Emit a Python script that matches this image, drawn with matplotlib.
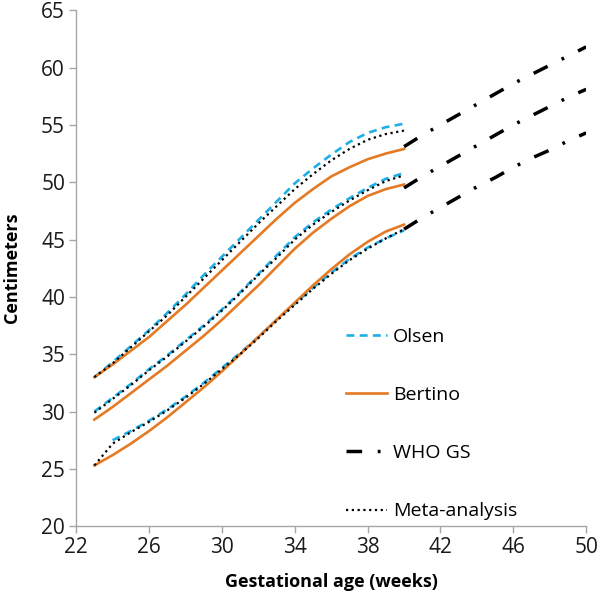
import numpy as np
import matplotlib
matplotlib.use("Agg")
import matplotlib.pyplot as plt

plt.rcParams['font.family'] = ['Open Sans', 'DejaVu Sans']

# gestational age in weeks
weeks = list(range(23, 41))
olsen_weeks = list(range(24, 41))
who_weeks = list(range(40, 51))

# upper curves
olsen_hi = [33.0, 34.3, 35.7, 37.1, 38.6, 40.2, 41.9, 43.5, 45.1, 46.7, 48.3, 49.9, 51.2, 52.4, 53.5, 54.3, 54.8, 55.1]
bertino_hi = [33.0, 34.1, 35.3, 36.5, 37.9, 39.3, 40.8, 42.3, 43.8, 45.3, 46.8, 48.2, 49.4, 50.5, 51.3, 52.0, 52.5, 52.9]
meta_hi = [33.0, 34.2, 35.6, 37.0, 38.4, 40.0, 41.6, 43.2, 44.8, 46.4, 47.9, 49.4, 50.7, 51.9, 52.9, 53.7, 54.2, 54.5]

# middle curves
olsen_mid = [30.0, 31.2, 32.4, 33.7, 34.9, 36.2, 37.5, 38.9, 40.4, 42.0, 43.6, 45.2, 46.5, 47.6, 48.6, 49.5, 50.3, 50.8]
bertino_mid = [29.3, 30.4, 31.6, 32.8, 34.0, 35.3, 36.6, 38.0, 39.5, 41.0, 42.6, 44.2, 45.6, 46.8, 47.9, 48.8, 49.4, 49.8]
meta_mid = [29.9, 31.1, 32.3, 33.6, 34.8, 36.1, 37.4, 38.8, 40.3, 41.9, 43.4, 45.0, 46.3, 47.4, 48.4, 49.3, 50.1, 50.6]

# lower curves
olsen_lo = [27.5, 28.3, 29.2, 30.2, 31.3, 32.5, 33.8, 35.1, 36.5, 38.0, 39.4, 40.8, 42.1, 43.3, 44.3, 45.1, 45.8]
bertino_lo = [25.3, 26.2, 27.2, 28.3, 29.5, 30.8, 32.1, 33.5, 35.0, 36.5, 38.0, 39.5, 41.0, 42.4, 43.7, 44.8, 45.7, 46.3]
meta_lo = [25.3, 27.2, 28.2, 29.1, 30.1, 31.2, 32.4, 33.7, 35.0, 36.4, 37.9, 39.3, 40.7, 42.0, 43.2, 44.2, 45.1, 45.9]

# WHO growth standards after term
who_hi = [53.1, 54.1, 55.0, 55.9, 56.8, 57.7, 58.6, 59.4, 60.2, 61.0, 61.8]
who_mid = [49.5, 50.5, 51.4, 52.3, 53.2, 54.1, 55.0, 55.8, 56.6, 57.4, 58.1]
who_lo = [45.9, 46.9, 47.8, 48.7, 49.6, 50.4, 51.3, 52.1, 52.8, 53.6, 54.3]

blue = '#1EAFE6'
orange = '#E57A24'

fig = plt.figure(figsize=(6, 6), dpi=100)
ax = fig.add_axes([0.127, 0.123, 0.85, 0.86])

lw = 1.9
for i, (o, b, m, w) in enumerate([(olsen_hi, bertino_hi, meta_hi, who_hi),
                                  (olsen_mid, bertino_mid, meta_mid, who_mid),
                                  (olsen_lo, bertino_lo, meta_lo, who_lo)]):
    ox = olsen_weeks if len(o) == len(olsen_weeks) else weeks
    ax.plot(ox, o, color=blue, lw=lw, dashes=(3.0, 2.0), label='Olsen' if i == 0 else None)
    ax.plot(weeks, b, color=orange, lw=lw, label='Bertino' if i == 0 else None)
    ax.plot(who_weeks, w, color='black', lw=2.5, dashes=(4.5, 4.5, 0.8, 4.5), label='WHO GS' if i == 0 else None)
    ax.plot(weeks, m, color='black', lw=1.6, linestyle=(0, (1, 1.6)), label='Meta-analysis' if i == 0 else None)

ax.set_xlim(22, 50)
ax.set_ylim(20, 65)
ax.set_xticks(range(22, 51, 4))
ax.set_yticks(range(20, 66, 5))
for s in ['top', 'right']:
    ax.spines[s].set_visible(False)
for s in ['left', 'bottom']:
    ax.spines[s].set_color('#A6A6A6')
    ax.spines[s].set_linewidth(1.0)
ax.tick_params(colors='#A6A6A6', labelcolor='#1A1A1A', labelsize=15, length=5, width=1.0, pad=3)

ax.set_xlabel('Gestational age (weeks)', fontsize=13, fontweight='bold')
ax.set_ylabel('Centimeters', fontsize=13, fontweight='bold')
ax.xaxis.set_label_coords(0.5, -0.09)
ax.yaxis.set_label_coords(-0.108, 0.5)

ax.legend(loc='center left', bbox_to_anchor=(346 / 600, 1 - 424 / 600), bbox_transform=fig.transFigure,
          frameon=False, fontsize=14, labelspacing=2.07, handlelength=2.1, handletextpad=0.3,
          borderpad=0, borderaxespad=0)

fig.savefig('out.png', dpi=100)
